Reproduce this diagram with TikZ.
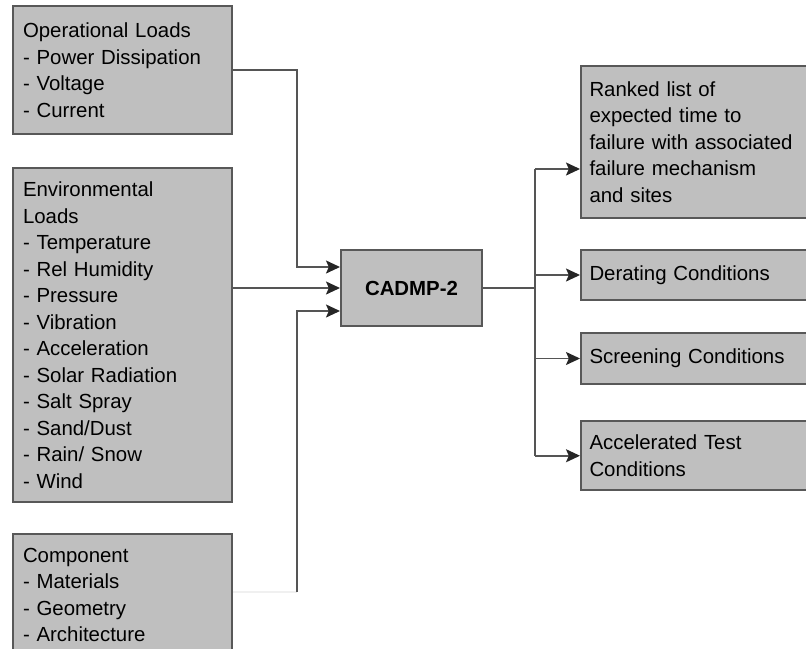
\documentclass[tikz,border=0pt]{standalone}
\usepackage{fontspec}
\setmainfont{Liberation Sans}
\usepackage{xcolor}
\usetikzlibrary{arrows.meta}
\definecolor{boxgray}{RGB}{191,191,191}
\definecolor{edgegray}{RGB}{88,88,88}
\definecolor{linkgray}{RGB}{85,85,85}

\begin{document}
\begin{tikzpicture}[x=0.5pt,y=-0.5pt,
    box/.style={draw=edgegray,line width=1pt,fill=boxgray,anchor=north west,
      align=left,inner xsep=5pt,inner ysep=7pt,text width=99.5pt,
      font=\fontsize{10.2}{13.25}\selectfont},
    outbox/.style={box,inner xsep=4.25pt,text width=111.5pt},
    mainbox/.style={draw=edgegray,line width=1pt,fill=boxgray,anchor=north west,
      minimum width=70.5pt,minimum height=38pt,font=\bfseries\fontsize{10.2}{12}\selectfont},
    wire/.style={draw=linkgray,line width=0.75pt},
    faintwire/.style={draw=black!6,line width=0.75pt},
    link/.style={wire,-{Stealth[length=7pt,width=6.5pt,inset=1.4pt,color=black!85]}}]
  \path[use as bounding box,clip] (0,0) rectangle (806,648);
  % Input boxes
  \node[box,minimum height=64pt] (ops) at (12,5)
    {Operational Loads\\- Power Dissipation\\- Voltage\\- Current};
  \node[box,minimum height=166.5pt] (env) at (12,167)
    {Environmental\\Loads\\- Temperature\\- Rel Humidity\\- Pressure\\- Vibration\\- Acceleration\\- Solar Radiation\\- Salt Spray\\- Sand/Dust\\- Rain/ Snow\\- Wind};
  \node[box] (comp) at (12,533)
    {Component\\- Materials\\- Geometry\\- Architecture};
  % Model
  \node[mainbox] (cadmp) at (340,249) {CADMP-2};
  % Output boxes
  \node[outbox,minimum height=76pt] (rank) at (580,65)
    {Ranked list of\\expected time to\\failure with associated\\failure mechanism\\and sites};
  \node[outbox,minimum height=25pt] (derate) at (580,249) {Derating Conditions};
  \node[outbox,minimum height=25.5pt] (screen) at (580,332) {Screening Conditions};
  \node[outbox,minimum height=31.5pt] (accel) at (580,420) {Accelerated Test\\Conditions};
  % Inputs into CADMP-2
  \coordinate (inbus) at ([xshift=-21.5pt]cadmp.west);
  \coordinate (compout) at ([yshift=-29.5pt]comp.north east);
  \draw[link] (ops.east) -| ([yshift=10.5pt]inbus) -- ([yshift=10.5pt]cadmp.west);
  \draw[link] (env.east |- cadmp.west) -- (cadmp.west);
  \draw[faintwire] (compout) -- (compout -| inbus);
  \draw[link] (compout -| inbus) |- ([yshift=-11.5pt]cadmp.west);
  % Outputs
  \coordinate (outbus) at ([xshift=-22.5pt]rank.west);
  \coordinate (rankin) at ([yshift=-13.5pt]rank.west);
  \draw[wire] (cadmp.east) -- (cadmp.east -| outbus);
  \draw[wire] (outbus |- rankin) -- (outbus |- accel.west);
  \draw[link] (outbus |- rankin) -- (rankin);
  \foreach \n in {derate,screen,accel}
    \draw[link] (outbus |- \n.west) -- (\n.west);
\end{tikzpicture}
\end{document}
